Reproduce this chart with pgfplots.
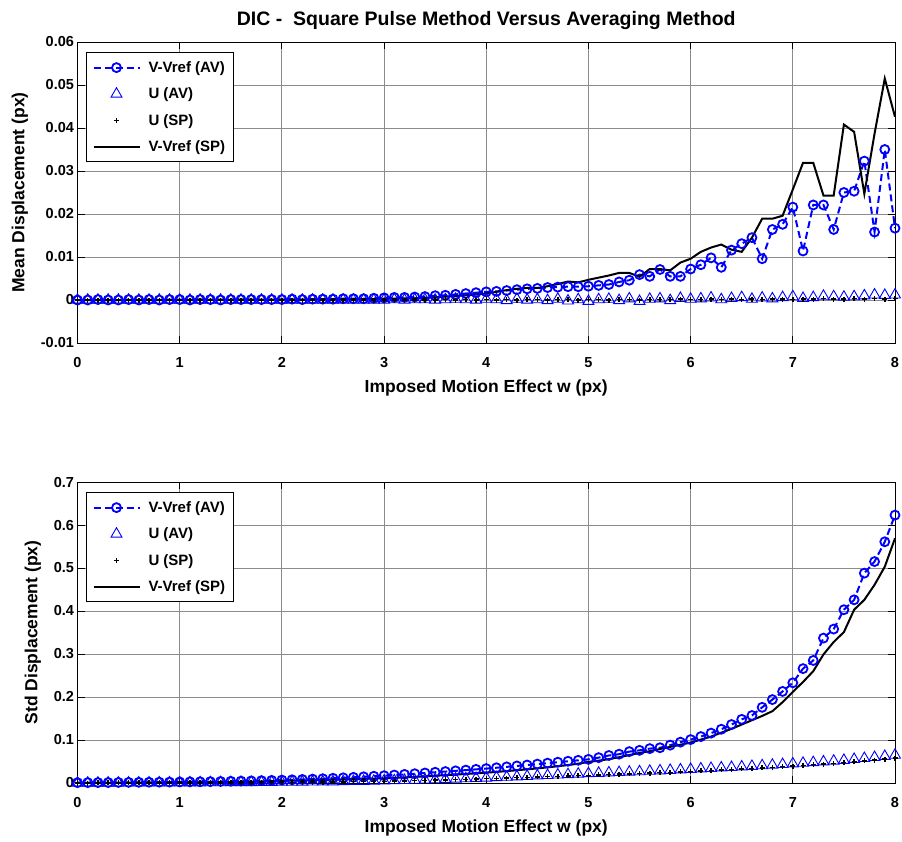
\documentclass[border=0pt]{standalone}
\usepackage{fontspec}
\setmainfont{Liberation Sans}
\usepackage{pgfplots}
\usepackage{pgfplotstable}
\pgfplotsset{compat=1.18}

\definecolor{avblue}{RGB}{0,0,255}

\newcommand\tickfont{\fontsize{14.5}{17}\selectfont\bfseries}
\newcommand\labelfont{\fontsize{17.5}{20}\selectfont\bfseries}
\newcommand\titlefont{\fontsize{19.5}{22}\selectfont\bfseries}
\newcommand\legfont{\fontsize{15}{18}\selectfont\bfseries}

% Mean displacement: x, V-Vref (AV), U (AV), U (SP), V-Vref (SP)
\pgfplotstableread{
x   vav     uav     usp     vsp
0.0 0.0000  0.0000  0.0000  0.0000
0.1 0.0000  0.0000  0.0000  0.0000
0.2 0.0001  0.0000  0.0000  0.0000
0.3 0.0000  0.0000  0.0000  0.0000
0.4 0.0000  0.0000  0.0000  0.0000
0.5 0.0001  0.0000  0.0000  0.0000
0.6 0.0000  0.0000  0.0000  0.0000
0.7 0.0001  0.0000  0.0000  0.0000
0.8 0.0000  0.0000  0.0000  0.0000
0.9 0.0001  0.0000  0.0000  0.0000
1.0 0.0001  0.0000  0.0000  0.0000
1.1 0.0000  0.0000  0.0000  0.0000
1.2 0.0001  0.0000  0.0000  0.0001
1.3 0.0001  0.0000  0.0000  0.0000
1.4 0.0000  0.0000  0.0000  0.0001
1.5 0.0001  0.0000  0.0000  0.0000
1.6 0.0001  0.0000  0.0000  0.0001
1.7 0.0001  0.0000  0.0000  0.0001
1.8 0.0001  0.0000  0.0000  0.0001
1.9 0.0001  0.0000  0.0000  0.0001
2.0 0.0001  0.0000  0.0000  0.0001
2.1 0.0002  0.0000  0.0000  0.0001
2.2 0.0001  0.0000  0.0000  0.0001
2.3 0.0002  0.0000  0.0000  0.0001
2.4 0.0002  0.0000  0.0000  0.0002
2.5 0.0002  0.0000  0.0000  0.0001
2.6 0.0003  0.0000  0.0000  0.0002
2.7 0.0003  0.0000  0.0000  0.0002
2.8 0.0003  0.0000  0.0000  0.0002
2.9 0.0004  0.0000  0.0000  0.0002
3.0 0.0005  0.0000  0.0000  0.0003
3.1 0.0006  0.0001  0.0000  0.0003
3.2 0.0006  0.0000  0.0000  0.0004
3.3 0.0007  0.0001  0.0000  0.0004
3.4 0.0008  0.0001  0.0000  0.0005
3.5 0.0010  0.0000  0.0000  0.0006
3.6 0.0011  0.0001  0.0001  0.0008
3.7 0.0013  0.0002  0.0000  0.0009
3.8 0.0015  0.0001  0.0001  0.0011
3.9 0.0017  0.0000  0.0000  0.0013
4.0 0.0019  0.0002  0.0001  0.0015
4.1 0.0020  0.0001  0.0000  0.0019
4.2 0.0022  -0.0001 0.0001  0.0023
4.3 0.0024  0.0002  0.0000  0.0026
4.4 0.0026  0.0000  0.0001  0.0028
4.5 0.0027  0.0001  0.0001  0.0028
4.6 0.0029  -0.0001 0.0000  0.0032
4.7 0.0030  0.0002  0.0001  0.0037
4.8 0.0031  -0.0002 0.0001  0.0043
4.9 0.0031  0.0001  0.0000  0.0041
5.0 0.0032  -0.0003 0.0001  0.0047
5.1 0.0034  0.0001  0.0001  0.0052
5.2 0.0036  0.0002  0.0000  0.0057
5.3 0.0042  -0.0001 0.0001  0.0063
5.4 0.0046  0.0003  0.0001  0.0063
5.5 0.0059  -0.0003 0.0000  0.0054
5.6 0.0055  0.0002  0.0001  0.0072
5.7 0.0071  0.0003  0.0001  0.0072
5.8 0.0055  -0.0001 0.0001  0.0069
5.9 0.0055  0.0004  0.0002  0.0087
6.0 0.0072  0.0002  0.0001  0.0096
6.1 0.0082  0.0003  0.0001  0.0112
6.2 0.0098  0.0005  0.0002  0.0122
6.3 0.0076  0.0001  0.0001  0.0129
6.4 0.0116  0.0004  0.0002  0.0117
6.5 0.0131  0.0006  0.0001  0.0112
6.6 0.0145  0.0002  0.0002  0.0145
6.7 0.0096  0.0005  0.0001  0.0189
6.8 0.0164  0.0003  0.0002  0.0189
6.9 0.0176  0.0006  0.0002  0.0196
7.0 0.0216  0.0008  0.0001  0.0257
7.1 0.0114  0.0004  0.0002  0.0319
7.2 0.0221  0.0006  0.0002  0.0319
7.3 0.0221  0.0009  0.0003  0.0243
7.4 0.0164  0.0008  0.0002  0.0243
7.5 0.0250  0.0007  0.0002  0.0408
7.6 0.0253  0.0008  0.0003  0.0391
7.7 0.0323  0.0010  0.0002  0.0247
7.8 0.0158  0.0012  0.0003  0.0387
7.9 0.0350  0.0011  0.0002  0.0515
8.0 0.0167  0.0012  0.0003  0.0426
}\meantable

% Standard deviation: x, V-Vref (AV), U (AV), U (SP), V-Vref (SP)
\pgfplotstableread{
x   vav     uav     usp     vsp
0.0 0.0008  0.0000  0.0000  0.0003
0.1 0.0009  0.0001  0.0000  0.0004
0.2 0.0010  0.0001  0.0001  0.0004
0.3 0.0011  0.0002  0.0001  0.0005
0.4 0.0013  0.0002  0.0001  0.0006
0.5 0.0015  0.0003  0.0002  0.0007
0.6 0.0016  0.0003  0.0002  0.0008
0.7 0.0018  0.0004  0.0003  0.0009
0.8 0.0020  0.0005  0.0003  0.0010
0.9 0.0022  0.0005  0.0004  0.0011
1.0 0.0025  0.0006  0.0004  0.0013
1.1 0.0027  0.0007  0.0005  0.0014
1.2 0.0029  0.0008  0.0006  0.0016
1.3 0.0032  0.0009  0.0006  0.0018
1.4 0.0036  0.0010  0.0007  0.0020
1.5 0.0040  0.0011  0.0008  0.0023
1.6 0.0044  0.0013  0.0009  0.0026
1.7 0.0049  0.0014  0.0010  0.0030
1.8 0.0055  0.0016  0.0011  0.0035
1.9 0.0061  0.0018  0.0013  0.0042
2.0 0.0068  0.0020  0.0014  0.0050
2.1 0.0075  0.0022  0.0016  0.0055
2.2 0.0083  0.0024  0.0018  0.0060
2.3 0.0091  0.0026  0.0020  0.0066
2.4 0.0100  0.0029  0.0022  0.0071
2.5 0.0110  0.0031  0.0024  0.0077
2.6 0.0121  0.0034  0.0027  0.0083
2.7 0.0132  0.0038  0.0030  0.0090
2.8 0.0144  0.0042  0.0033  0.0096
2.9 0.0157  0.0046  0.0037  0.0103
3.0 0.0170  0.0050  0.0040  0.0110
3.1 0.0185  0.0056  0.0045  0.0120
3.2 0.0200  0.0061  0.0050  0.0130
3.3 0.0216  0.0067  0.0055  0.0142
3.4 0.0233  0.0073  0.0060  0.0155
3.5 0.0250  0.0080  0.0066  0.0168
3.6 0.0266  0.0087  0.0072  0.0182
3.7 0.0283  0.0094  0.0079  0.0196
3.8 0.0300  0.0102  0.0086  0.0210
3.9 0.0317  0.0110  0.0093  0.0225
4.0 0.0335  0.0118  0.0100  0.0240
4.1 0.0355  0.0128  0.0108  0.0258
4.2 0.0375  0.0137  0.0116  0.0277
4.3 0.0397  0.0147  0.0124  0.0297
4.4 0.0418  0.0158  0.0132  0.0318
4.5 0.0440  0.0168  0.0140  0.0340
4.6 0.0462  0.0178  0.0148  0.0364
4.7 0.0484  0.0189  0.0156  0.0390
4.8 0.0506  0.0199  0.0164  0.0418
4.9 0.0528  0.0210  0.0172  0.0450
5.0 0.0550  0.0220  0.0180  0.0490
5.1 0.0590  0.0229  0.0188  0.0520
5.2 0.0640  0.0238  0.0197  0.0555
5.3 0.0670  0.0247  0.0205  0.0600
5.4 0.0730  0.0256  0.0214  0.0650
5.5 0.0760  0.0265  0.0223  0.0700
5.6 0.0800  0.0276  0.0232  0.0740
5.7 0.0820  0.0286  0.0241  0.0790
5.8 0.0880  0.0297  0.0250  0.0840
5.9 0.0950  0.0308  0.0260  0.0890
6.0 0.1010  0.0320  0.0270  0.0940
6.1 0.1080  0.0331  0.0281  0.1010
6.2 0.1160  0.0342  0.0292  0.1080
6.3 0.1250  0.0354  0.0303  0.1170
6.4 0.1360  0.0365  0.0315  0.1260
6.5 0.1480  0.0377  0.0327  0.1360
6.6 0.1570  0.0390  0.0340  0.1460
6.7 0.1760  0.0405  0.0353  0.1560
6.8 0.1940  0.0418  0.0366  0.1670
6.9 0.2130  0.0433  0.0380  0.1880
7.0 0.2330  0.0448  0.0395  0.2120
7.1 0.2660  0.0463  0.0410  0.2350
7.2 0.2850  0.0478  0.0425  0.2600
7.3 0.3370  0.0494  0.0441  0.2990
7.4 0.3580  0.0512  0.0458  0.3280
7.5 0.4030  0.0530  0.0475  0.3510
7.6 0.4260  0.0552  0.0494  0.4030
7.7 0.4880  0.0573  0.0514  0.4260
7.8 0.5150  0.0597  0.0535  0.4610
7.9 0.5610  0.0622  0.0557  0.5030
8.0 0.6230  0.0650  0.0580  0.5690
}\stdtable

\pgfplotsset{
  dicaxis/.style={
    scale only axis,
    width=817.5pt, height=301pt,
    xmin=0, xmax=8,
    xtick={0,1,2,3,4,5,6,7,8},
    xticklabels={0,1,2,3,4,5,6,7,8},
    scaled y ticks=false,
    tick align=inside,
    major tick length=7pt,
    tick style={black, line width=0.8pt},
    axis line style={black, line width=1pt},
    grid=major,
    major grid style={black!45, line width=0.8pt},
    ticklabel style={font=\tickfont},
    xticklabel style={yshift=-11pt},
    xlabel={Imposed Motion Effect w (px)},
    xlabel style={font=\labelfont, yshift=-5pt},
    ylabel style={font=\labelfont},
    ylabel shift=6pt,
    legend cell align=left,
    legend style={at={(0.0104,0.967)}, anchor=north west,
      draw=black, line width=1pt, fill=white, font=\legfont,
      row sep=10pt, inner xsep=6pt, inner ysep=7pt,
      /tikz/every odd column/.append style={column sep=6pt}},
    legend image code/.code={%
      \draw[mark repeat=2, mark phase=2]
        plot coordinates {(0pt,0pt) (23pt,0pt) (46pt,0pt)};},
  },
  avline/.style={avblue, line width=2pt, dash pattern=on 7pt off 4pt,
    mark=o, mark size=4.5pt, mark options={solid, line width=1.8pt}},
  uavmark/.style={only marks, avblue, mark=triangle,
    mark size=6.3pt, mark options={line width=0.9pt}},
  uspmark/.style={only marks, black, mark=+,
    mark size=2.5pt, mark options={line width=1.5pt}},
  spline/.style={black, line width=2pt, no marks},
}

\begin{document}
\begin{tikzpicture}[x=1pt, y=1pt]
\path[use as bounding box] (0,0) rectangle (902,-842);

\begin{axis}[dicaxis,
  at={(77.5pt,-343pt)}, anchor=south west,
  ymin=-0.01, ymax=0.06,
  ytick={-0.01,0,0.01,0.02,0.03,0.04,0.05,0.06},
  yticklabels={-0.01,0,0.01,0.02,0.03,0.04,0.05,0.06},
  ylabel={Mean Displacement (px)},
  title={DIC -\ \ Square Pulse Method Versus Averaging Method},
  title style={font=\titlefont, yshift=3pt},
]
\addplot[avline] table[x=x, y=vav] {\meantable};
\addlegendentry{V-Vref (AV)}
\addplot[uavmark] table[x=x, y=uav] {\meantable};
\addlegendentry{U (AV)}
\addplot[uspmark] table[x=x, y=usp] {\meantable};
\addlegendentry{U (SP)}
\addplot[spline] table[x=x, y=vsp] {\meantable};
\addlegendentry{V-Vref (SP)}
\end{axis}

\begin{axis}[dicaxis,
  at={(77.5pt,-783pt)}, anchor=south west,
  ymin=0, ymax=0.7,
  ytick={0,0.1,0.2,0.3,0.4,0.5,0.6,0.7},
  yticklabels={0,0.1,0.2,0.3,0.4,0.5,0.6,0.7},
  ylabel={Std Displacement (px)},
]
\addplot[avline] table[x=x, y=vav] {\stdtable};
\addlegendentry{V-Vref (AV)}
\addplot[uavmark] table[x=x, y=uav] {\stdtable};
\addlegendentry{U (AV)}
\addplot[uspmark] table[x=x, y=usp] {\stdtable};
\addlegendentry{U (SP)}
\addplot[spline] table[x=x, y=vsp] {\stdtable};
\addlegendentry{V-Vref (SP)}
\end{axis}
\end{tikzpicture}
\end{document}
